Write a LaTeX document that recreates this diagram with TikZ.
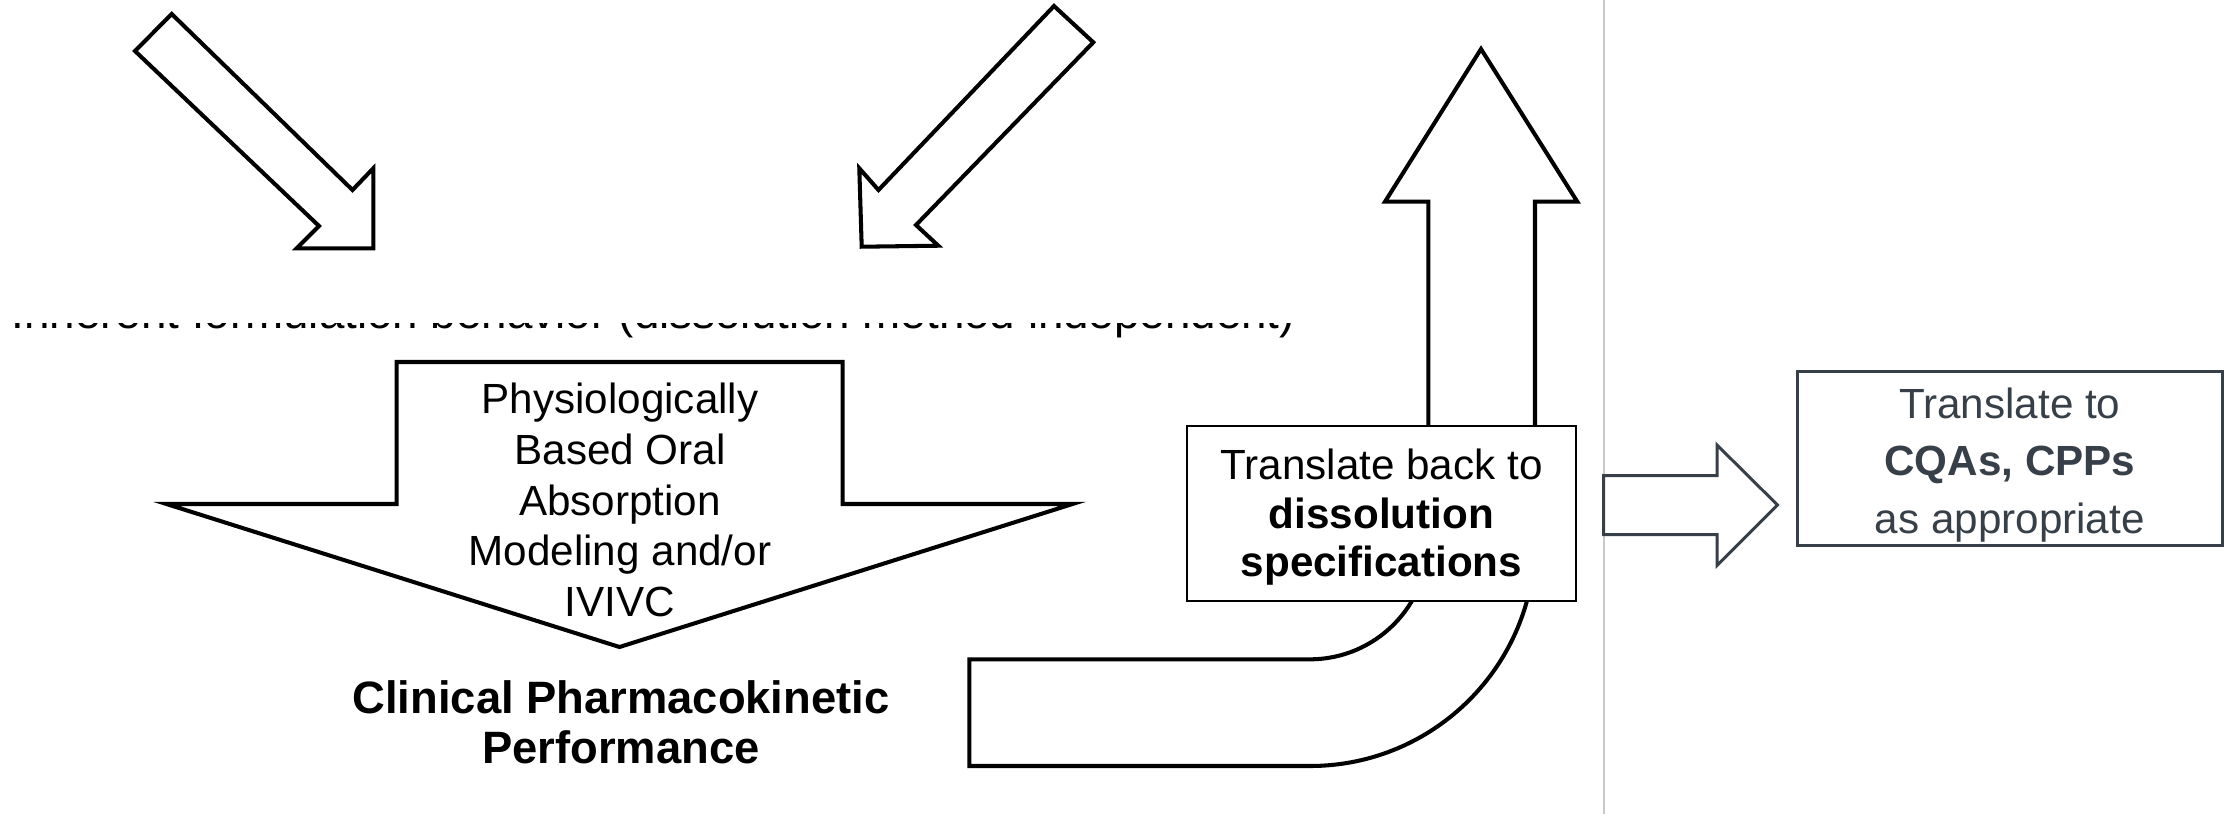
\documentclass[tikz,border=0pt]{standalone}
\usepackage{fontspec}
\setmainfont{Liberation Sans}
\definecolor{slate}{HTML}{374048}
\definecolor{rulegray}{HTML}{C8C8C8}
\begin{document}
\begin{tikzpicture}[x=0.01cm,y=-0.01cm,
  blockarrow/.style={draw=black, line width=1.15pt, fill=white, line join=miter},
  slatearrow/.style={draw=slate, line width=0.85pt, fill=white, line join=miter},
  bodytext/.style={font=\fontsize{12}{14.45}\selectfont, align=center, inner sep=0pt},
  titletext/.style={font=\bfseries\fontsize{12.9}{14.2}\selectfont, align=center, inner sep=0pt},
  backbox/.style={draw=black, line width=0.55pt, fill=white, inner sep=0pt,
     minimum width=3.89cm, minimum height=1.75cm},
  backtext/.style={font=\fontsize{12}{13.8}\selectfont, align=center, inner sep=0pt},
  cqabox/.style={draw=slate, line width=0.85pt, fill=white, inner sep=0pt,
     minimum width=4.244cm, minimum height=1.74cm},
  cqatext/.style={text=slate, font=\fontsize{12}{16.4}\selectfont, align=center, inner sep=0pt}
]
\useasboundingbox[fill=white] (0,0) rectangle (2235,814);

% light vertical rule
\draw[rulegray, line width=0.45pt] (1604,0) -- (1604,814);

% clipped line of text (only its lower edge shows)
\begin{scope}
  \clip (0,323) rectangle (1340,345);
  \node[anchor=base west, inner sep=0pt, font=\fontsize{13}{15}\selectfont] (inherent) at (11,328)
    {Inherent formulation behavior (dissolution method independent)};
\end{scope}

% left diagonal arrow (down-right)
\draw[blockarrow] (171.7,14) -- (352.5,190) -- (373.3,168.3) -- (373.3,248.3)
  -- (296.7,248.3) -- (319,226) -- (135,51) -- cycle;

% right diagonal arrow (down-left)
\draw[blockarrow] (1054,6) -- (1093.3,42.3) -- (916,225) -- (938.3,245.7)
  -- (861.7,246.7) -- (859.3,168.3) -- (878.5,190) -- cycle;

% big down arrow
\draw[blockarrow] (396.7,362) -- (842.7,362) -- (842.7,504) -- (1072.5,504)
  -- (619.5,647) -- (166.5,504) -- (396.7,504) -- cycle;
\node[bodytext] (pbpk) at (620,500)
  {Physiologically\\Based Oral\\Absorption\\Modeling and/or\\IVIVC};

\node[titletext] (pk) at (621,722.7) {Clinical Pharmacokinetic\\Performance};

% U-turn arrow
\draw[blockarrow] (969.3,659.3) -- (1310,659.3)
  .. controls (1375.2,659.3) and (1428.3,606.2) .. (1428.3,541)
  -- (1428.3,201.7) -- (1385,201.7) -- (1481,49) -- (1577.3,201.7) -- (1535,201.7)
  -- (1535,541) .. controls (1535,665.3) and (1434.3,766) .. (1310,766)
  -- (969.3,766) -- cycle;

\node[backbox] (back) at (1381.5,513.5) {};
\node[backtext] (backlabel) at ([yshift=-0.04cm]back.center)
  {Translate back to\\\textbf{dissolution}\\\textbf{specifications}};

% right block arrow
\draw[slatearrow] (1603.6,475.5) -- (1717,475.5) -- (1717,445) -- (1777.5,505)
  -- (1717,565.5) -- (1717,534.5) -- (1603.6,534.5) -- cycle;

\node[cqabox] (cqa) at (2009.8,458.5) {};
\node[cqatext] (cqalabel) at ([yshift=-0.065cm]cqa.center)
  {Translate to\\\textbf{CQAs, CPPs}\\as appropriate};
\end{tikzpicture}
\end{document}
